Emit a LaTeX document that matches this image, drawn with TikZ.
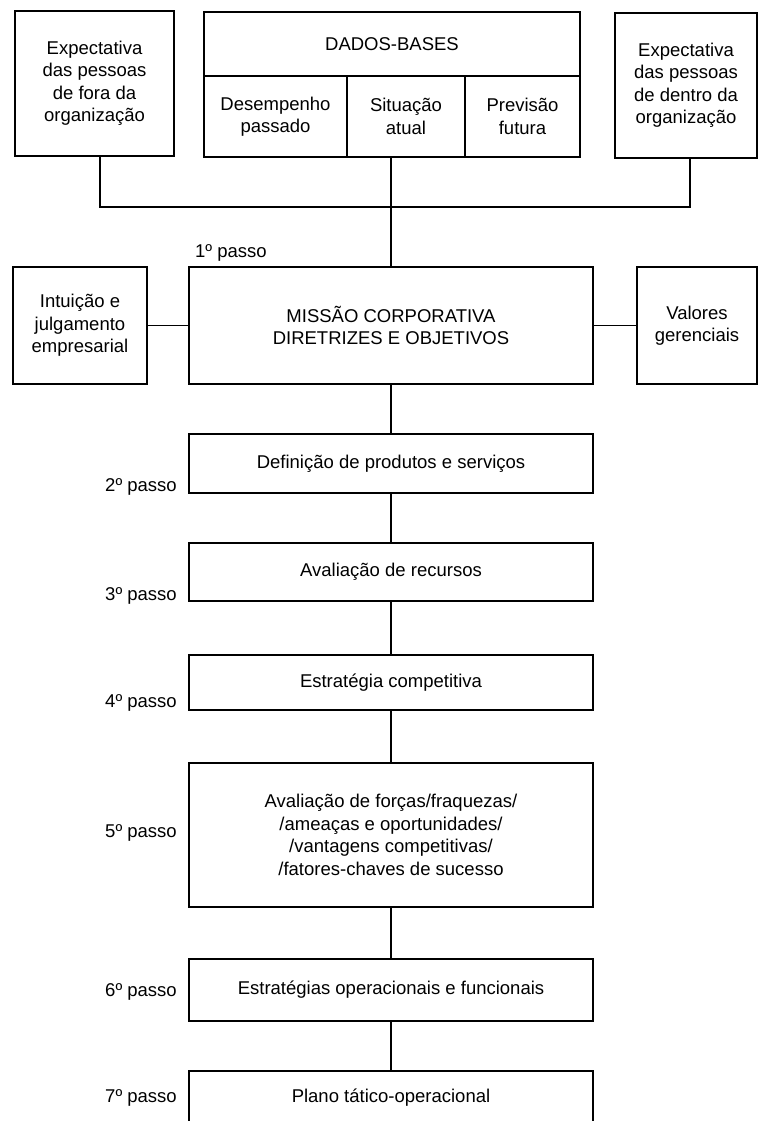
\documentclass[tikz,border=0pt]{standalone}
\usepackage{fontspec}
\setmainfont{Liberation Sans}
\begin{document}
\begin{tikzpicture}[x=1pt,y=-1pt,
  box/.style={draw, line width=1.4pt, inner sep=0pt, align=center, font=\fontsize{18.5}{22.5}\selectfont},
  lbl/.style={inner sep=0pt, font=\fontsize{18.5}{22.5}\selectfont},
  conn/.style={line width=1.4pt}]
\useasboundingbox (0,0) rectangle (758,1121);
\clip (0,0) rectangle (758,1121);
% top row
\node[box, minimum width=159, minimum height=145] (ext) at (94.5,83.5) {Expectativa\\das pessoas\\de fora da\\organização};
\node[box, minimum width=376, minimum height=64] (dados) at (392,44) {DADOS-BASES};
\node[box, minimum width=143, minimum height=81] (des) at (275.5,116.5) {Desempenho\\passado};
\node[box, minimum width=118, minimum height=81] (sit) at (406,116.5) {Situação\\atual};
\node[box, minimum width=115, minimum height=81] (prev) at (522.5,116.5) {Previsão\\futura};
\node[box, minimum width=142, minimum height=145] (inn) at (686,85.5) {Expectativa\\das pessoas\\de dentro da\\organização};
% mission row
\node[box, minimum width=134, minimum height=117] (intu) at (80,325.5) {Intuição e\\julgamento\\empresarial};
\node[box, minimum width=404, minimum height=117] (miss) at (391,325.5) {MISSÃO CORPORATIVA\\DIRETRIZES E OBJETIVOS};
\node[box, minimum width=120, minimum height=117] (val) at (697,325.5) {Valores\\gerenciais};
% steps
\node[box, minimum width=404, minimum height=59] (p2) at (391,463.5) {Definição de produtos e serviços};
\node[box, minimum width=404, minimum height=58] (p3) at (391,572) {Avaliação de recursos};
\node[box, minimum width=404, minimum height=55] (p4) at (391,682.5) {Estratégia competitiva};
\node[box, minimum width=404, minimum height=144] (p5) at (391,835) {Avaliação de forças/fraquezas/\\/ameaças e oportunidades/\\/vantagens competitivas/\\/fatores-chaves de sucesso};
\node[box, minimum width=404, minimum height=62] (p6) at (391,990) {Estratégias operacionais e funcionais};
\node[box, minimum width=404, minimum height=54] (p7) at (391,1098) {Plano tático-operacional};
% step labels
\node[lbl, anchor=west] (l1) at (195,253) {1º passo};
\node[lbl, anchor=east] (l2) at (177,487) {2º passo};
\node[lbl, anchor=east] (l3) at (177,596) {3º passo};
\node[lbl, anchor=east] (l4) at (177,703) {4º passo};
\node[lbl, anchor=east] (l5) at (177,833) {5º passo};
\node[lbl, anchor=east] (l6) at (177,992) {6º passo};
\node[lbl, anchor=east] (l7) at (177,1098) {7º passo};
% connectors
\coordinate (j) at (391,207);
\draw[conn] ([xshift=5.5pt]ext.south) |- (j);
\draw[conn] ([xshift=4pt]inn.south) |- (j);
\draw[conn] (miss.north |- des.south) -- (miss.north);
\draw[conn] (intu.east) -- (miss.west);
\draw[conn] (miss.east) -- (val.west);
\draw[conn] (miss.south) -- (p2.north);
\draw[conn] (p2.south) -- (p3.north);
\draw[conn] (p3.south) -- (p4.north);
\draw[conn] (p4.south) -- (p5.north);
\draw[conn] (p5.south) -- (p6.north);
\draw[conn] (p6.south) -- (p7.north);
\end{tikzpicture}
\end{document}
